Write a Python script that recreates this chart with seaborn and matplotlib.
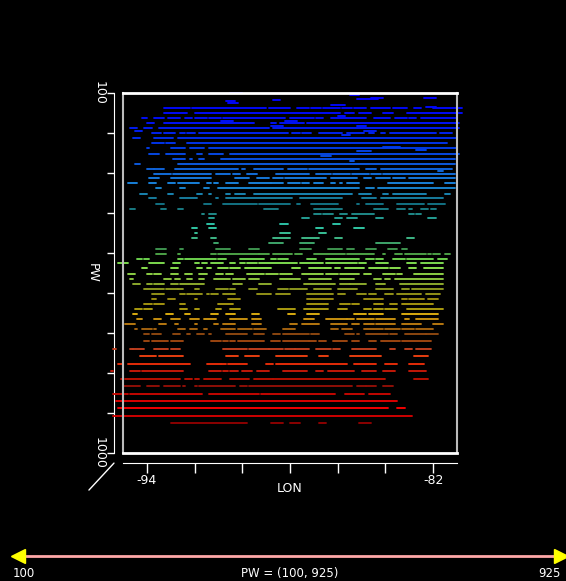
import numpy as np
import pandas as pd
import matplotlib
matplotlib.use('Agg')
import matplotlib.pyplot as plt
import seaborn as sns
from matplotlib.colors import LinearSegmentedColormap

# ================================
# 1. DATA  (pressure level -> list of (lon_start, lon_end) segments)
# ================================
upper_pw = [100, 105, 112, 115, 117, 121, 126, 131, 136, 138, 150, 157, 163, 170,
            176, 182, 188, 194, 201, 205, 213, 226, 235, 238, 242, 246, 252, 257,
            264, 269, 277, 289, 295, 302, 313, 326, 338, 352, 363]
upper_lon = [
    [(-90.5, -90.0)],
    [(-85.5, -85.1)],
    [(-84.6, -84.1), (-82.4, -81.9)],
    [(-85.2, -84.3)],
    [(-88.7, -88.4)],
    [(-90.7, -90.3)],
    [(-90.6, -90.2)],
    [(-86.3, -85.7)],
    [(-82.3, -81.9)],
    [(-93.3, -92.2), (-92.1, -89.0), (-88.9, -88.0), (-87.7, -87.2), (-87.1, -86.7),
     (-86.6, -85.9), (-85.8, -85.4), (-85.3, -84.8), (-84.6, -83.8), (-83.7, -83.1),
     (-82.8, -82.5), (-82.0, -80.8)],
    [(-93.3, -92.3), (-92.0, -85.9), (-85.7, -85.3), (-85.1, -84.6), (-84.1, -83.7),
     (-83.1, -80.8)],
    [(-86.0, -85.7)],
    [(-94.2, -94.0), (-93.7, -93.3), (-93.1, -92.6), (-92.4, -92.1), (-92.0, -91.5),
     (-91.4, -90.9), (-90.8, -88.2), (-88.0, -87.0), (-86.9, -86.6), (-86.3, -84.8),
     (-84.5, -83.8), (-83.6, -83.1), (-83.0, -82.7), (-82.5, -81.0)],
    [(-90.9, -90.4), (-88.2, -87.7)],
    [(-94.0, -93.7), (-93.3, -89.5), (-88.8, -88.6), (-88.4, -87.4), (-87.3, -80.9)],
    [(-88.8, -88.3), (-85.2, -84.8)],
    [(-94.7, -94.4), (-94.1, -93.8), (-93.5, -88.9), (-88.7, -80.9)],
    [(-94.5, -94.2), (-84.9, -84.4)],
    [(-93.8, -93.4), (-93.3, -92.8), (-92.6, -92.4), (-92.3, -92.0), (-91.8, -88.1),
     (-87.9, -87.6), (-87.5, -87.1), (-86.8, -85.8), (-85.6, -84.9), (-84.7, -84.5),
     (-84.2, -84.0), (-83.8, -81.9), (-81.7, -81.2)],
    [(-85.8, -85.5)],
    [(-94.6, -94.3), (-93.7, -92.9), (-92.7, -81.0)],
    [(-93.8, -93.3), (-93.2, -92.8), (-92.3, -81.4)],
    [(-84.1, -83.4)],
    [(-94.0, -93.9), (-93.0, -92.4), (-92.2, -91.6), (-91.4, -81.0)],
    [(-82.7, -82.3)],
    [(-85.2, -84.6)],
    [(-93.9, -93.5), (-93.2, -92.4), (-91.9, -91.7), (-91.4, -90.8), (-90.5, -80.9)],
    [(-86.7, -86.3)],
    [(-92.9, -92.4), (-92.2, -92.1), (-91.8, -91.6), (-90.9, -81.1)],
    [(-85.5, -85.3)],
    [(-94.5, -94.3), (-92.7, -81.1)],
    [(-94.0, -93.7), (-93.7, -93.3), (-92.8, -90.2), (-90.0, -89.9), (-89.5, -88.3),
     (-88.1, -87.3), (-87.2, -85.1), (-84.8, -84.4), (-84.2, -81.2)],
    [(-81.8, -81.6)],
    [(-93.7, -93.0), (-92.9, -91.3), (-91.1, -90.5), (-90.4, -90.1), (-89.8, -89.4),
     (-88.6, -87.2), (-86.9, -86.3), (-86.2, -85.5), (-85.4, -84.7), (-84.6, -84.2),
     (-84.1, -81.1)],
    [(-93.9, -93.5), (-93.0, -91.3), (-90.3, -89.7), (-89.4, -88.9), (-88.7, -88.3),
     (-88.2, -86.5), (-86.3, -85.2), (-84.9, -84.6), (-84.4, -83.8), (-83.7, -83.2),
     (-83.0, -81.1)],
    [(-94.8, -94.4), (-93.9, -93.6), (-93.1, -92.8), (-92.7, -91.8), (-91.5, -91.3),
     (-91.2, -91.0), (-90.7, -90.2), (-89.7, -88.8), (-88.8, -88.3), (-88.1, -87.6),
     (-87.5, -87.2), (-87.0, -86.6), (-86.3, -86.1), (-85.9, -85.8), (-85.6, -85.1),
     (-83.9, -82.0), (-81.5, -81.1)],
    [(-93.6, -93.4), (-92.6, -92.4), (-91.6, -91.4), (-91.0, -85.1), (-84.8, -84.5),
     (-84.3, -81.1)],
    [(-94.3, -94.0), (-93.1, -92.9), (-91.9, -91.7), (-91.4, -91.3), (-90.7, -90.5),
     (-90.3, -89.9), (-89.5, -85.4), (-85.1, -84.6), (-84.1, -83.9), (-83.7, -82.3),
     (-81.5, -81.3)],
    [(-93.9, -93.6), (-92.6, -91.9), (-91.1, -91.0), (-90.7, -87.9), (-87.6, -85.8),
     (-85.0, -84.4), (-84.2, -81.6)],
]

middle_pw = [377, 389, 402, 412, 427, 438, 451, 463, 476, 489, 502, 514, 526, 538,
             552, 564, 577, 590, 602, 615, 628, 639]
middle_lon = [
    [(-93.6, -93.3), (-91.6, -91.3), (-90.8, -89.4), (-89.3, -88.0), (-87.7, -87.6),
     (-87.1, -86.0), (-85.2, -85.1), (-84.8, -84.1), (-83.5, -82.4), (-82.2, -81.5)],
    [(-94.7, -94.5), (-93.4, -93.2), (-92.7, -92.5), (-89.1, -88.5), (-87.0, -85.8),
     (-84.5, -83.9), (-83.5, -83.2), (-83.0, -82.9), (-82.5, -82.2), (-82.1, -81.9)],
    [(-91.7, -91.6), (-91.4, -91.1), (-87.0, -86.7), (-86.6, -86.2), (-85.9, -85.6),
     (-85.4, -84.5), (-83.0, -82.8), (-82.7, -82.5)],
    [(-91.4, -91.2), (-87.5, -87.2), (-86.1, -85.8), (-85.6, -85.2), (-84.4, -84.1),
     (-82.2, -81.9)],
    [(-91.5, -91.2), (-88.4, -88.1), (-86.2, -85.9)],
    [(-92.1, -91.9), (-91.4, -91.1), (-86.9, -86.6), (-85.3, -84.9)],
    [(-92.0, -91.9), (-88.4, -88.0), (-86.8, -86.5)],
    [(-92.1, -91.9), (-91.3, -91.1), (-88.7, -88.0), (-87.5, -86.8), (-86.1, -85.8),
     (-83.1, -82.8)],
    [(-91.2, -91.0), (-88.9, -88.3), (-87.6, -87.0), (-84.4, -83.4)],
    [(-93.6, -93.2), (-92.6, -92.5), (-91.1, -90.5), (-89.7, -89.3), (-87.6, -87.1),
     (-86.4, -85.8), (-85.6, -85.3), (-84.8, -84.4), (-83.9, -83.5), (-83.3, -83.1)],
    [(-93.6, -93.2), (-92.7, -92.6), (-91.3, -91.1), (-91.0, -89.3), (-89.3, -88.9),
     (-88.7, -87.9), (-87.8, -87.5), (-87.0, -85.7), (-85.6, -84.5), (-84.1, -84.0),
     (-83.6, -83.3), (-83.2, -82.3), (-82.2, -82.1), (-82.0, -81.7), (-81.5, -81.3)],
    [(-94.4, -94.2), (-94.1, -93.9), (-92.7, -92.5), (-92.4, -91.1), (-91.0, -90.7),
     (-90.1, -89.1), (-88.8, -88.6), (-88.5, -88.1), (-87.3, -86.9), (-86.5, -85.1),
     (-84.8, -84.5), (-84.4, -84.1), (-83.7, -83.2), (-83.1, -82.0), (-81.8, -81.4)],
    [(-95.2, -94.8), (-93.9, -93.3), (-92.9, -92.6), (-92.0, -91.8), (-91.7, -91.5),
     (-91.3, -90.8), (-90.5, -90.3), (-90.1, -89.9), (-89.8, -89.4), (-89.3, -87.7),
     (-87.6, -86.6), (-86.5, -85.2), (-85.1, -84.8), (-84.4, -83.9), (-83.1, -82.7),
     (-82.5, -81.6)],
    [(-94.2, -94.0), (-93.0, -92.7), (-91.9, -91.7), (-91.5, -91.3), (-91.0, -90.6),
     (-90.5, -90.1), (-89.9, -88.8), (-87.9, -87.6), (-87.2, -86.3), (-86.1, -85.9),
     (-85.7, -84.9), (-84.7, -83.9), (-83.8, -83.4), (-83.0, -82.7), (-82.4, -81.6)],
    [(-94.8, -94.5), (-94.0, -93.8), (-93.7, -93.4), (-93.0, -92.7), (-92.4, -92.1),
     (-91.8, -91.5), (-91.1, -90.8), (-90.7, -90.4), (-89.8, -89.1), (-89.0, -88.5),
     (-88.4, -87.9), (-87.5, -86.6), (-86.5, -86.0), (-85.9, -85.1), (-84.9, -84.6),
     (-84.1, -83.6), (-83.5, -83.3), (-82.8, -81.6)],
    [(-94.7, -94.6), (-93.3, -93.0), (-92.8, -92.6), (-92.3, -92.1), (-91.8, -91.6),
     (-91.2, -90.5), (-90.4, -89.9), (-89.7, -89.3), (-88.4, -87.6), (-87.2, -86.3),
     (-85.9, -85.3), (-84.5, -84.2), (-84.0, -83.8), (-83.6, -81.6)],
    [(-94.6, -94.3), (-94.0, -93.8), (-93.7, -93.3), (-93.0, -92.7), (-92.6, -91.6),
     (-90.4, -90.0), (-89.3, -88.8), (-87.4, -86.1), (-85.9, -85.5), (-85.5, -84.8),
     (-84.4, -84.0), (-83.4, -81.6)],
    [(-94.1, -93.3), (-93.2, -92.7), (-92.7, -92.5), (-92.0, -91.8), (-91.1, -90.6),
     (-90.5, -90.3), (-89.7, -89.4), (-88.5, -88.1), (-88.0, -87.3), (-87.0, -86.3),
     (-86.0, -85.2), (-84.4, -83.7), (-83.3, -83.0), (-82.9, -81.6)],
    [(-93.8, -93.3), (-92.6, -92.4), (-92.3, -91.7), (-91.5, -91.4), (-91.3, -91.0),
     (-90.8, -90.3), (-89.4, -88.8), (-88.6, -88.0), (-87.3, -86.2), (-86.0, -85.7),
     (-85.2, -84.8), (-84.7, -84.4), (-84.0, -83.7), (-83.5, -82.5), (-82.3, -81.7)],
    [(-93.8, -93.6), (-93.1, -92.8), (-92.0, -91.9), (-90.6, -90.1), (-87.3, -86.2),
     (-84.9, -84.1), (-83.3, -83.1), (-83.0, -82.4), (-82.2, -81.8)],
    [(-94.1, -93.8), (-93.7, -93.3), (-92.6, -92.4), (-91.0, -90.4), (-87.3, -86.4),
     (-85.9, -85.5), (-85.4, -85.1), (-84.5, -84.1), (-83.8, -83.5), (-83.3, -82.0)],
    [(-94.5, -94.2), (-94.1, -93.8), (-92.6, -92.3), (-92.0, -91.8), (-91.1, -90.9),
     (-90.5, -90.1), (-88.5, -87.8), (-87.4, -86.4), (-86.0, -85.6), (-84.9, -84.6),
     (-84.5, -84.1), (-84.0, -83.5), (-83.1, -81.6)],
]

lower_pw = [653, 664, 677, 689, 702, 720, 739, 757, 777, 796, 814, 833, 852, 871,
            888, 908, 925]
lower_lon = [
    [(-94.6, -94.4), (-93.2, -92.9), (-92.4, -92.2), (-91.3, -91.0), (-90.7, -90.3),
     (-89.6, -89.3), (-88.1, -87.8), (-87.3, -86.8), (-85.3, -84.8), (-84.7, -84.1),
     (-83.3, -81.8)],
    [(-94.4, -94.2), (-93.7, -93.4), (-93.0, -92.6), (-92.2, -91.8), (-91.6, -91.1),
     (-90.5, -89.8), (-89.6, -89.2), (-87.4, -87.0), (-86.5, -85.6), (-85.6, -85.3),
     (-85.2, -84.5), (-84.4, -83.6), (-83.2, -83.0), (-82.7, -81.8)],
    [(-94.9, -94.5), (-93.5, -93.2), (-92.8, -92.7), (-92.0, -91.9), (-91.2, -91.0),
     (-90.8, -90.3), (-89.6, -89.2), (-88.0, -87.7), (-87.5, -86.8), (-86.3, -85.6),
     (-85.4, -85.1), (-84.9, -84.5), (-84.4, -83.6), (-83.3, -82.5), (-82.0, -81.6)],
    [(-94.5, -94.4), (-94.2, -93.8), (-93.7, -93.6), (-92.7, -92.4), (-92.2, -91.9),
     (-91.6, -91.5), (-90.9, -90.3), (-90.2, -89.6), (-89.5, -89.0), (-88.3, -87.8),
     (-86.3, -86.0), (-85.8, -85.4), (-84.9, -84.1), (-84.0, -83.4), (-83.3, -82.8),
     (-82.7, -82.0)],
    [(-94.1, -93.9), (-93.8, -93.4), (-92.9, -92.6), (-92.3, -92.2), (-91.9, -91.6),
     (-91.4, -91.3), (-90.7, -89.8), (-89.5, -89.1), (-88.7, -88.4), (-88.3, -87.2),
     (-87.1, -86.8), (-85.7, -85.3), (-85.2, -85.1), (-84.8, -83.9), (-83.8, -83.5),
     (-83.2, -82.3), (-82.3, -81.8)],
    [(-94.1, -93.9), (-93.8, -93.1), (-93.0, -92.5), (-91.3, -90.9), (-90.8, -90.6),
     (-90.5, -90.3), (-90.2, -89.1), (-88.8, -88.4), (-88.3, -87.2), (-87.2, -86.9),
     (-86.8, -86.5), (-86.2, -85.6), (-85.4, -85.1), (-84.7, -84.4), (-84.2, -83.4),
     (-83.3, -82.1)],
    [(-95.4, -95.3), (-94.7, -94.6), (-94.6, -94.1), (-93.7, -93.1), (-93.0, -92.6),
     (-90.8, -89.8), (-89.7, -88.9), (-88.9, -88.3), (-88.2, -87.8), (-87.8, -87.2),
     (-86.9, -86.3), (-86.2, -85.9), (-85.4, -84.4), (-83.8, -83.6), (-83.2, -82.9),
     (-82.7, -82.1)],
    [(-94.3, -93.6), (-93.5, -92.5), (-90.7, -90.2), (-89.9, -89.3), (-88.6, -87.3),
     (-86.8, -86.4), (-85.5, -84.2), (-82.8, -82.2)],
    [(-95.2, -95.0), (-94.8, -92.2), (-91.5, -90.9), (-90.9, -90.7), (-90.6, -89.8),
     (-89.0, -88.7), (-88.6, -85.6), (-85.3, -84.4), (-84.0, -83.5), (-83.0, -82.4)],
    [(-95.5, -95.4), (-94.7, -94.3), (-94.2, -92.5), (-91.4, -90.9), (-90.8, -90.6),
     (-90.5, -90.2), (-90.0, -89.6), (-89.4, -88.9), (-88.3, -87.3), (-86.9, -86.6),
     (-86.4, -85.3), (-85.0, -84.4), (-84.1, -83.6), (-83.0, -82.3)],
    [(-95.1, -95.0), (-94.9, -92.6), (-92.4, -92.1), (-92.0, -91.8), (-91.6, -90.9),
     (-90.5, -89.7), (-89.5, -88.7), (-88.7, -84.0), (-82.8, -82.2)],
    [(-95.0, -94.3), (-94.0, -93.5), (-93.3, -92.6), (-92.5, -92.4), (-92.0, -91.9),
     (-91.8, -90.3), (-90.1, -89.8), (-89.7, -85.4), (-85.2, -84.8), (-84.8, -84.4),
     (-84.1, -83.7)],
    [(-95.4, -94.8), (-94.7, -91.7), (-91.4, -89.3), (-89.2, -86.1), (-85.7, -84.9),
     (-84.7, -83.8)],
    [(-95.3, -83.5)],
    [(-95.2, -83.9), (-83.5, -83.2)],
    [(-95.4, -82.9)],
    [(-93.0, -89.8), (-88.8, -88.3), (-88.0, -87.6), (-86.8, -86.5), (-85.1, -84.6)],
]

lon_ticks = [-94, -92, -90, -88, -86, -84, -82]
pw_ticks = [100, 200, 300, 400, 500, 600, 700, 800, 900, 1000]
slider_range = [100, 925]

# ================================
# 2. LONG TABLE (one unit per segment)
# ================================
records = []
seg = 0
for levels, rows in [(upper_pw, upper_lon), (middle_pw, middle_lon), (lower_pw, lower_lon)]:
    for pw, row in zip(levels, rows):
        for lo, hi in row:
            records.append((seg, pw, lo))
            records.append((seg, pw, hi))
            seg += 1
df = pd.DataFrame(records, columns=['seg', 'PW', 'LON'])

# colour table by pressure (blue aloft -> red near surface)
anchors = [
    (100, '#0000ff'), (170, '#0010ff'), (230, '#0038f0'), (290, '#1068e0'),
    (330, '#1a88e0'), (352, '#1a88b8'), (377, '#147484'), (400, '#208c8c'),
    (430, '#30d0b0'), (460, '#40c090'), (489, '#409850'), (502, '#50a848'),
    (514, '#70d850'), (538, '#90e850'), (564, '#90c840'), (590, '#909c20'),
    (615, '#a09010'), (640, '#b0a010'), (653, '#e0b010'), (677, '#c08010'),
    (702, '#904810'), (720, '#a04810'), (739, '#c04020'), (757, '#f04010'),
    (777, '#f03008'), (796, '#c81808'), (814, '#c01000'), (833, '#901008'),
    (852, '#c80800'), (871, '#e00000'), (888, '#ff0000'), (908, '#d80000'),
    (925, '#900000'),
]
cmap = LinearSegmentedColormap.from_list(
    'pw', [((p - 100) / 825, c) for p, c in anchors])

# ================================
# 3. FIGURE
# ================================
sns.set_style('dark')
plt.rcParams['font.family'] = ['DejaVu Sans']
fig = plt.figure(figsize=(5.66, 5.81), dpi=100, facecolor='black')
ax = fig.add_axes([123 / 566, 1 - 453 / 581, 334 / 566, 360 / 581])
ax.set_facecolor('black')

sns.lineplot(data=df, x='LON', y='PW', hue='PW', units='seg', estimator=None,
             sort=False, palette=cmap, hue_norm=(100, 925), legend=False,
             lw=1.35, clip_on=False, ax=ax)

ax.set_xlim(-95, -81)
ax.set_ylim(1000, 100)
ax.set_xticks([])
ax.set_yticks([])
ax.set_xlabel('')
ax.set_ylabel('')
ax.grid(False)
for side, sp in ax.spines.items():
    sp.set_visible(True)
    sp.set_color('white' if side in ('top', 'bottom') else '#bbbbbb')
    sp.set_linewidth(2 if side in ('top', 'bottom') else 1.5)

# LON axis, offset below the box
sx = ax.secondary_xaxis(-10 / 360)
sx.set_xticks(lon_ticks, [str(lon_ticks[0])] + [''] * 5 + [str(lon_ticks[-1])])
sx.tick_params(colors='white', length=7, width=1, labelsize=9, pad=1)
sx.spines['bottom'].set_color('white')
sx.set_xlabel('LON', color='white', fontsize=9, labelpad=-4)

# PW axis, offset left of the box
sy = ax.secondary_yaxis(-9 / 334)
sy.set_yticks(pw_ticks, [str(pw_ticks[0])] + [''] * 8 + [str(pw_ticks[-1])])
sy.tick_params(colors='white', length=5, width=1, labelsize=9, pad=1,
               labelrotation=-90)
sy.spines['left'].set_color('white')
for t in sy.get_yticklabels():
    t.set_va('center')
ax.text(-0.093, 0.5, 'PW', color='white', fontsize=9, rotation=-90,
        ha='center', va='center', transform=ax.transAxes)

# perspective corner
ax.plot([-0.102, -0.027], [-0.103, -0.028], color='white', lw=1,
        transform=ax.transAxes, clip_on=False)

# ================================
# 4. PW RANGE SLIDER
# ================================
axs = fig.add_axes([18 / 566, (581 - 556 - 12) / 581, (561 - 18) / 566, 24 / 581])
axs.set_facecolor('black')
axs.axis('off')
axs.set_xlim(slider_range)
axs.set_ylim(-1, 1)
axs.plot(slider_range, [0, 0], color='#ffa8a8', lw=2, clip_on=False)
axs.plot([slider_range[0]], [0], marker='<', color='#ffff00', ms=10, clip_on=False)
axs.plot([slider_range[1]], [0], marker='>', color='#ffff00', ms=10, clip_on=False)

ty = 1 - 580 / 581
fig.text(13 / 566, ty, str(slider_range[0]), color='white', fontsize=8.5,
         ha='left', va='bottom')
fig.text(290 / 566, ty, f'PW = ({slider_range[0]}, {slider_range[1]})',
         color='white', fontsize=8.5, ha='center', va='bottom')
fig.text(561 / 566, ty, str(slider_range[1]), color='white', fontsize=8.5,
         ha='right', va='bottom')

fig.savefig('out.png', dpi=100, facecolor='black')
